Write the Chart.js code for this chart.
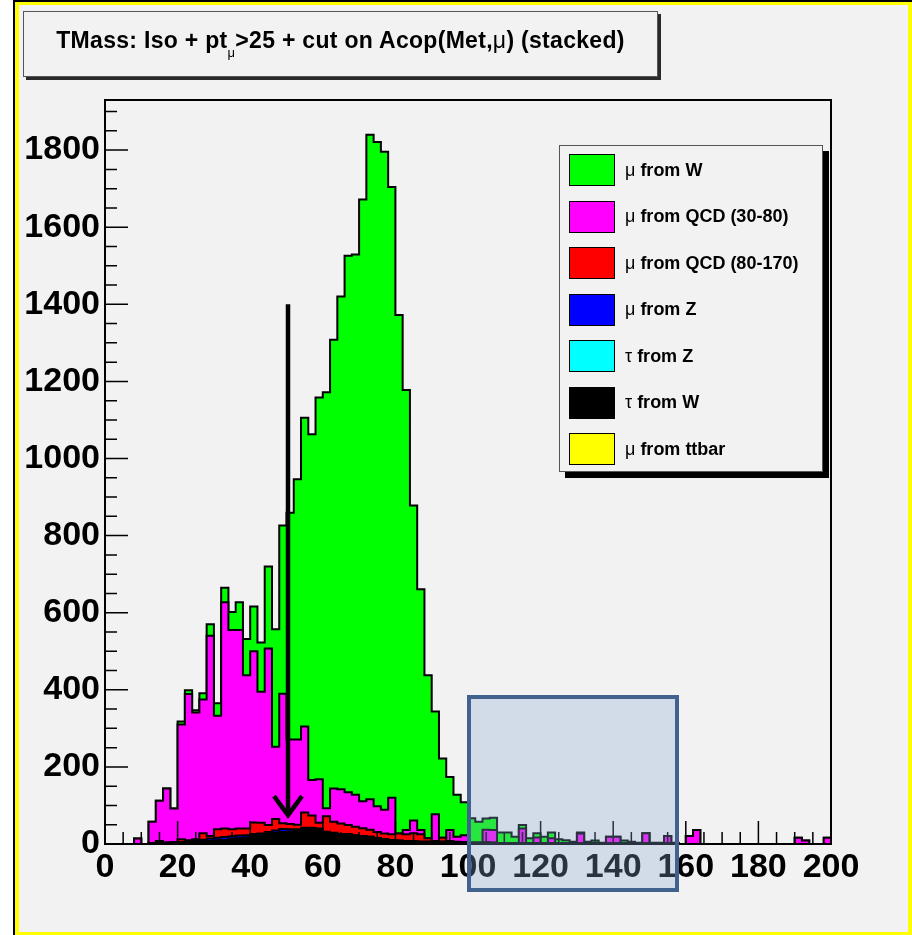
<!DOCTYPE html>
<html>
<head>
<meta charset="utf-8">
<title>TMass stacked</title>
<script src="https://cdn.jsdelivr.net/npm/chart.js@4/dist/chart.umd.min.js"></script>
<style>
  html, body { margin: 0; padding: 0; background: #ffffff; }
  #page { position: relative; width: 912px; height: 935px; overflow: hidden;
          font-family: "Liberation Sans", Arial, Helvetica, sans-serif; }
  #outer { position: absolute; left: 13px; top: 0; width: 899px; height: 935px;
           box-sizing: border-box; border-left: 2px solid #000; border-top: 2px solid #000; }
  #pad { position: absolute; left: 0; top: 0; right: 0; bottom: 0;
         border-style: solid; border-color: #ffff00; border-width: 3px 4px 3px 4px;
         background: #f2f2f2; }
  #chart { position: absolute; left: 0; top: 0; }
  #title { position: absolute; left: 23px; top: 11px; width: 635px; height: 66px;
           box-sizing: border-box; border: 1px solid #555; background: #f2f2f2;
           box-shadow: 3px 3px 0 #2a2a2a; text-align: center;
           font-weight: bold; font-size: 23px; line-height: 23px; color: #000;
           padding-top: 17px; letter-spacing: 0.3px; }
  #title sub { font-size: 13px; font-weight: normal; vertical-align: -9px; line-height: 0; }
  .sym { font-weight: normal; }
  #legend { position: absolute; left: 559px; top: 145px; width: 264px; height: 327px;
            box-sizing: border-box; border: 1px solid #555; background: #f2f2f2;
            box-shadow: 6px 6px 0 #000; }
  .row { position: absolute; left: 9px; height: 32px; display: flex; align-items: center; }
  .sw { width: 44px; height: 30px; border: 1px solid #000; margin-right: 10px; }
  .lab { font-weight: bold; font-size: 18px; color: #000; white-space: nowrap; }
  #zone { position: absolute; left: 467px; top: 695px; width: 212px; height: 197px;
          box-sizing: border-box; border: 4px solid #41628f;
          background: rgba(132, 169, 209, 0.30); }
</style>
</head>
<body>
<div id="page">
  <div id="outer"><div id="pad"></div></div>
  <canvas id="chart" width="912" height="935"></canvas>
  <div id="title">TMass: Iso + pt<sub>μ</sub>&gt;25 + cut on Acop(Met,<span class="sym">μ</span>) (stacked)</div>
  <div id="legend"></div>
  <div id="zone"></div>
</div>
<script>
// Transverse mass, 2 GeV bins from 0 to 200
const BIN_WIDTH = 2;
const X_TICKS = [0, 20, 40, 60, 80, 100, 120, 140, 160, 180, 200];
const Y_TICKS = [0, 200, 400, 600, 800, 1000, 1200, 1400, 1600, 1800];

// Entries per bin for each sample
const muFromTtbar = [
  0,0,0,0,0,0,0,0,0,0,
  0,0,0,0,0,0,0,0,0,0,
  0,0,0,0,0,0,0,0,0,0,
  0,0,0,0,0,1,0,0,1,0,
  0,0,1,0,0,0,1,0,0,0,
  0,0,1,0,0,0,0,0,0,0,
  0,0,0,0,0,0,0,0,0,0,
  0,0,0,0,0,0,0,0,0,0,
  0,0,0,0,0,0,0,0,0,0,
  0,0,0,0,0,0,0,0,0,0
];
const tauFromW = [
  0,0,0,0,0,0,2,2,3,4,
  5,5,6,6,8,9,10,12,14,16,
  20,22,25,28,30,32,34,38,40,38,
  30,28,26,24,22,20,18,15,12,10,
  8,7,7,6,6,5,5,4,4,4,
  3,3,3,3,2,2,2,2,2,2,
  2,2,1,1,1,1,1,1,0,1,
  1,1,1,0,1,0,0,1,1,0,
  0,0,0,0,0,0,0,0,0,0,
  0,0,0,0,0,0,0,0,0,0
];
const tauFromZ = [
  0,0,0,0,0,0,0,0,0,0,
  0,0,0,0,0,0,0,0,0,0,
  1,0,0,0,1,0,0,1,0,0,
  1,0,0,1,0,0,1,0,0,0,
  1,0,0,0,0,0,0,0,0,0,
  0,0,0,0,0,0,0,0,0,0,
  0,0,0,0,0,0,0,0,0,0,
  0,0,0,0,0,0,0,0,0,0,
  0,0,0,0,0,0,0,0,0,0,
  0,0,0,0,0,0,0,0,0,0
];
const muFromZ = [
  0,0,0,0,0,0,0,0,0,0,
  0,3,4,5,6,7,8,8,8,7,
  5,5,6,7,8,6,4,3,2,2,
  1,1,0,0,0,0,0,0,0,0,
  0,0,0,0,0,0,0,0,0,0,
  0,0,0,0,0,0,0,0,0,0,
  0,0,0,0,0,0,0,0,0,0,
  0,0,0,0,0,0,0,0,0,0,
  0,0,0,0,0,0,0,0,0,0,
  0,0,0,0,0,0,0,0,0,0
];
const muFromQCD80to170 = [
  0,0,0,0,0,0,0,6,0,0,
  7,2,2,17,7,22,22,18,18,17,
  30,28,18,30,15,14,12,40,32,15,
  40,29,27,24,23,20,18,16,14,15,
  18,18,20,19,9,3,10,4,2,0,
  0,0,0,0,0,0,0,0,0,0,
  0,0,0,0,0,0,0,0,0,0,
  0,0,0,0,0,0,0,0,0,0,
  0,0,0,0,0,0,0,0,0,0,
  0,0,0,0,0,0,0,0,0,0
];
const muFromQCD30to80 = [
  0,0,0,0,14,0,56,104,141,88,
  298,379,329,347,519,295,587,517,515,398,
  444,340,458,187,336,219,221,223,92,113,
  21,86,89,85,83,70,79,67,62,95,
  0,11,33,11,0,69,0,28,13,19,
  0,0,33,33,0,0,0,38,0,15,
  0,13,0,0,0,26,0,0,0,18,
  18,0,0,0,27,0,0,20,0,0,
  21,36,0,0,0,0,0,0,0,0,
  0,0,0,0,0,16,9,0,0,16
];
const muFromW = [
  0,0,0,0,0,0,0,0,0,0,
  8,10,6,16,30,32,38,47,72,94,
  116,128,213,305,436,588,675,801,897,990,
  1079,1164,1278,1392,1401,1561,1724,1723,1707,1584,
  1345,1142,817,625,423,267,206,138,109,85,
  64,55,29,32,28,28,17,9,13,11,
  17,15,11,9,5,3,5,8,3,0,
  0,8,5,3,0,3,3,0,2,0,
  0,0,0,0,0,0,0,0,0,0,
  0,0,0,0,0,0,0,0,0,0
];

// Stack from bottom to top
const samples = [
  { label: 'μ from ttbar',        color: '#ffff00', values: muFromTtbar },
  { label: 'τ from W',            color: '#000000', values: tauFromW },
  { label: 'τ from Z',            color: '#00ffff', values: tauFromZ },
  { label: 'μ from Z',            color: '#0000ff', values: muFromZ },
  { label: 'μ from QCD (80-170)', color: '#ff0000', values: muFromQCD80to170 },
  { label: 'μ from QCD (30-80)',  color: '#ff00ff', values: muFromQCD30to80 },
  { label: 'μ from W',            color: '#00ff00', values: muFromW }
];

// Histogram step points: one per lower bin edge, closed at the upper edge
function toSteps(values) {
  const pts = values.map((v, i) => ({ x: i * BIN_WIDTH, y: v }));
  pts.push({ x: values.length * BIN_WIDTH, y: 0 });
  return pts;
}

const datasets = samples.map((s, i) => ({
  label: s.label,
  data: toSteps(s.values),
  stepped: true,
  borderColor: '#000000',
  borderWidth: 2,
  backgroundColor: s.color,
  fill: i === 0 ? 'origin' : '-1',
  pointRadius: 0,
  pointHoverRadius: 0
}));

// Frame, inward tick marks and the cut arrow at 50 GeV
const CUT_X = 50, CUT_FROM = 1400, CUT_TO = 75;
const frameAndTicks = {
  id: 'frameAndTicks',
  afterDatasetsDraw(chart) {
    const { ctx, chartArea: a, scales: { x, y } } = chart;
    ctx.save();
    ctx.strokeStyle = '#000';
    ctx.lineWidth = 1.5;
    ctx.beginPath();
    for (let v = 0; v <= y.max; v += 50) {
      const py = y.getPixelForValue(v);
      const len = v % 200 === 0 ? 23 : 12;
      ctx.moveTo(a.left, py);
      ctx.lineTo(a.left + len, py);
    }
    for (let v = 0; v <= x.max; v += 5) {
      const px = x.getPixelForValue(v);
      const len = v % 20 === 0 ? 23 : 12;
      ctx.moveTo(px, a.bottom);
      ctx.lineTo(px, a.bottom - len);
    }
    ctx.stroke();

    ctx.lineWidth = 2;
    ctx.strokeRect(a.left, a.top, a.right - a.left, a.bottom - a.top);

    // cut arrow
    const ax = x.getPixelForValue(CUT_X) + 1.5;
    const y0 = y.getPixelForValue(CUT_FROM);
    const y1 = y.getPixelForValue(CUT_TO);
    ctx.lineWidth = 4.5;
    ctx.lineCap = 'butt';
    ctx.beginPath();
    ctx.moveTo(ax, y0);
    ctx.lineTo(ax, y1 - 3);
    ctx.stroke();
    ctx.lineJoin = 'miter';
    ctx.beginPath();
    ctx.moveTo(ax - 14, y1 - 19);
    ctx.lineTo(ax, y1);
    ctx.lineTo(ax + 14, y1 - 19);
    ctx.stroke();
    ctx.restore();
  }
};

const axisFont = { family: '"Liberation Sans", Arial, Helvetica, sans-serif', size: 34, weight: 'bold' };

new Chart(document.getElementById('chart'), {
  type: 'line',
  data: { datasets },
  options: {
    responsive: false,
    animation: false,
    devicePixelRatio: 1,
    events: [],
    layout: { padding: { left: 0, top: 100, right: 81, bottom: 31 } },
    plugins: { legend: { display: false }, title: { display: false }, tooltip: { enabled: false } },
    elements: { line: { tension: 0 } },
    scales: {
      x: {
        type: 'linear', min: 0, max: 200,
        grid: { display: false, drawTicks: false },
        border: { display: false },
        afterBuildTicks: s => { s.ticks = X_TICKS.map(v => ({ value: v })); },
        afterFit: s => { s.height = 60; },
        ticks: { font: axisFont, color: '#000', padding: 3, maxRotation: 0, autoSkip: false,
                 callback: v => String(v) }
      },
      y: {
        type: 'linear', min: 0, max: 1930, stacked: true,
        grid: { display: false, drawTicks: false },
        border: { display: false },
        afterBuildTicks: s => { s.ticks = Y_TICKS.map(v => ({ value: v })); },
        afterFit: s => { s.width = 105; },
        ticks: { font: axisFont, color: '#000', padding: 5, callback: v => String(v) }
      }
    }
  },
  plugins: [frameAndTicks]
});

// Legend box, listed from the top of the stack down
const legend = document.getElementById('legend');
samples.slice().reverse().forEach((s, i) => {
  const row = document.createElement('div');
  row.className = 'row';
  row.style.top = (8 + i * 46.5) + 'px';
  const sw = document.createElement('div');
  sw.className = 'sw';
  sw.style.background = s.color;
  const lab = document.createElement('div');
  lab.className = 'lab';
  const sp = s.label.indexOf(' ');
  const g = document.createElement('span');
  g.className = 'sym';
  g.textContent = s.label.slice(0, sp);
  lab.appendChild(g);
  lab.appendChild(document.createTextNode(s.label.slice(sp)));
  row.appendChild(sw);
  row.appendChild(lab);
  legend.appendChild(row);
});
</script>
</body>
</html>
